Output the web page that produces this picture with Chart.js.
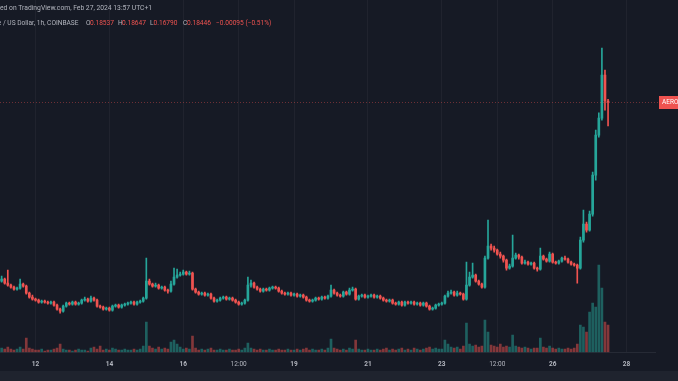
<!DOCTYPE html>
<html>
<head>
<meta charset="utf-8">
<script src="https://cdn.jsdelivr.net/npm/chart.js@4.4.1/dist/chart.umd.min.js"></script>
<style>
html, body { margin: 0; padding: 0; background: #161a25; }
canvas { display: block; }
</style>
</head>
<body>
<canvas id="myChart" width="678" height="381"></canvas>
<script>
// AERO / USD, 2-hour candles, Feb 11 - Feb 27 2024 (hours counted from Feb 11 00:00)
var open = [
  .0593,.0607,.0579,.0565,.0551,.0537,.0544,.0572,.0558,.0509,
  .0481,.0467,.0460,.0446,.0453,.0446,.0439,.0446,.0425,.0397,
  .0383,.0418,.0439,.0432,.0446,.0432,.0439,.0460,.0467,.0453,
  .0474,.0460,.0418,.0411,.0397,.0404,.0390,.0418,.0425,.0411,
  .0425,.0432,.0439,.0446,.0432,.0446,.0453,.0474,.0593,.0572,
  .0558,.0565,.0544,.0551,.0530,.0523,.0572,.0621,.0635,.0642,
  .0656,.0642,.0649,.0537,.0516,.0502,.0509,.0495,.0502,.0474,
  .0453,.0460,.0474,.0481,.0467,.0474,.0460,.0446,.0432,.0439,
  .0460,.0565,.0579,.0551,.0537,.0523,.0537,.0530,.0544,.0551,
  .0544,.0523,.0509,.0502,.0509,.0495,.0502,.0488,.0495,.0481,
  .0460,.0453,.0460,.0474,.0467,.0481,.0474,.0488,.0530,.0509,
  .0495,.0488,.0516,.0502,.0530,.0537,.0467,.0488,.0495,.0481,
  .0488,.0495,.0481,.0488,.0474,.0460,.0453,.0460,.0439,.0432,
  .0446,.0425,.0446,.0439,.0446,.0432,.0439,.0425,.0439,.0418,
  .0397,.0404,.0425,.0432,.0439,.0488,.0509,.0516,.0495,.0509,
  .0502,.0467,.0565,.0621,.0635,.0593,.0572,.0551,.0754,.0838,
  .0824,.0810,.0782,.0768,.0740,.0684,.0698,.0754,.0775,.0761,
  .0719,.0726,.0712,.0719,.0684,.0677,.0768,.0747,.0733,.0782,
  .0726,.0719,.0733,.0754,.0747,.0726,.0712,.0705,.0684,.0880,
  .0992,.0950,.1062,.1335,.1615,.1734,.2035,.18537
];
var high = [
  .0628,.0614,.0670,.0572,.0558,.0551,.0607,.0579,.0565,.0516,
  .0495,.0474,.0467,.0460,.0460,.0453,.0453,.0453,.0432,.0404,
  .0425,.0446,.0446,.0453,.0453,.0446,.0467,.0481,.0474,.0488,
  .0481,.0467,.0425,.0418,.0411,.0411,.0425,.0432,.0432,.0432,
  .0439,.0446,.0453,.0453,.0453,.0460,.0481,.0754,.0607,.0579,
  .0579,.0572,.0558,.0558,.0537,.0593,.0684,.0677,.0656,.0670,
  .0663,.0663,.0656,.0544,.0523,.0516,.0516,.0509,.0509,.0481,
  .0467,.0481,.0488,.0488,.0481,.0481,.0467,.0453,.0446,.0467,
  .0621,.0600,.0586,.0558,.0544,.0544,.0544,.0551,.0558,.0558,
  .0551,.0530,.0516,.0516,.0516,.0509,.0509,.0502,.0502,.0488,
  .0467,.0467,.0481,.0481,.0488,.0488,.0495,.0565,.0537,.0516,
  .0502,.0523,.0523,.0544,.0551,.0544,.0495,.0502,.0502,.0495,
  .0502,.0502,.0495,.0495,.0481,.0467,.0467,.0467,.0446,.0453,
  .0453,.0453,.0453,.0453,.0453,.0446,.0446,.0446,.0446,.0425,
  .0411,.0432,.0439,.0446,.0495,.0523,.0530,.0523,.0523,.0516,
  .0509,.0726,.0656,.0719,.0642,.0600,.0579,.0768,.1020,.0852,
  .0838,.0817,.0796,.0775,.0747,.0712,.0915,.0789,.0782,.0768,
  .0740,.0733,.0726,.0726,.0691,.0824,.0775,.0754,.0796,.0789,
  .0733,.0740,.0761,.0768,.0754,.0733,.0719,.0712,.0901,.1090,
  .1006,.1083,.1356,.1650,.1770,.2224,.2070,.18647
];
var low = [
  .0586,.0572,.0558,.0544,.0530,.0530,.0537,.0551,.0502,.0474,
  .0460,.0453,.0439,.0439,.0439,.0432,.0432,.0418,.0390,.0369,
  .0376,.0411,.0425,.0425,.0425,.0425,.0432,.0453,.0446,.0446,
  .0453,.0411,.0404,.0390,.0390,.0383,.0383,.0411,.0404,.0404,
  .0418,.0425,.0432,.0425,.0425,.0439,.0446,.0467,.0565,.0551,
  .0551,.0537,.0537,.0523,.0509,.0516,.0565,.0614,.0628,.0635,
  .0635,.0635,.0530,.0509,.0495,.0495,.0488,.0488,.0467,.0446,
  .0446,.0453,.0467,.0460,.0460,.0453,.0439,.0425,.0425,.0432,
  .0453,.0551,.0544,.0530,.0516,.0516,.0523,.0523,.0537,.0537,
  .0516,.0502,.0495,.0495,.0488,.0488,.0481,.0481,.0474,.0453,
  .0446,.0446,.0453,.0460,.0460,.0467,.0467,.0481,.0502,.0488,
  .0481,.0481,.0495,.0495,.0523,.0460,.0460,.0481,.0474,.0474,
  .0481,.0474,.0474,.0467,.0453,.0446,.0446,.0432,.0425,.0425,
  .0418,.0418,.0432,.0432,.0425,.0425,.0418,.0418,.0411,.0390,
  .0390,.0397,.0418,.0425,.0432,.0481,.0502,.0488,.0488,.0495,
  .0460,.0460,.0558,.0614,.0586,.0565,.0544,.0544,.0747,.0810,
  .0796,.0775,.0754,.0726,.0670,.0677,.0691,.0747,.0747,.0712,
  .0712,.0705,.0705,.0677,.0663,.0670,.0740,.0726,.0726,.0719,
  .0712,.0712,.0726,.0740,.0719,.0705,.0698,.0579,.0677,.0866,
  .0936,.0943,.1048,.1300,.1601,.1720,.1790,.16790
];
var close = [
  .0607,.0579,.0565,.0551,.0537,.0544,.0572,.0558,.0509,.0481,
  .0467,.0460,.0446,.0453,.0446,.0439,.0446,.0425,.0397,.0383,
  .0418,.0439,.0432,.0446,.0432,.0439,.0460,.0467,.0453,.0474,
  .0460,.0418,.0411,.0397,.0404,.0390,.0418,.0425,.0411,.0425,
  .0432,.0439,.0446,.0432,.0446,.0453,.0474,.0593,.0572,.0558,
  .0565,.0544,.0551,.0530,.0523,.0572,.0621,.0635,.0642,.0656,
  .0642,.0649,.0537,.0516,.0502,.0509,.0495,.0502,.0474,.0453,
  .0460,.0474,.0481,.0467,.0474,.0460,.0446,.0432,.0439,.0460,
  .0565,.0579,.0551,.0537,.0523,.0537,.0530,.0544,.0551,.0544,
  .0523,.0509,.0502,.0509,.0495,.0502,.0488,.0495,.0481,.0460,
  .0453,.0460,.0474,.0467,.0481,.0474,.0488,.0530,.0509,.0495,
  .0488,.0516,.0502,.0530,.0537,.0467,.0488,.0495,.0481,.0488,
  .0495,.0481,.0488,.0474,.0460,.0453,.0460,.0439,.0432,.0446,
  .0425,.0446,.0439,.0446,.0432,.0439,.0425,.0439,.0418,.0397,
  .0404,.0425,.0432,.0439,.0488,.0509,.0516,.0495,.0509,.0502,
  .0467,.0565,.0621,.0635,.0593,.0572,.0551,.0754,.0838,.0824,
  .0810,.0782,.0768,.0740,.0684,.0698,.0754,.0775,.0761,.0719,
  .0726,.0712,.0719,.0684,.0677,.0768,.0747,.0733,.0782,.0726,
  .0719,.0733,.0754,.0747,.0726,.0712,.0705,.0684,.0880,.0992,
  .0950,.1062,.1335,.1615,.1734,.2035,.18541,.18446
];
var volume = [
  4,3,5,3,2,3,5,3,14,4,
  3,2,2,3,1,2,2,3,4,8,
  3,2,2,1,2,3,2,2,1,4,
  5,3,6,2,3,2,4,3,2,2,
  3,2,2,3,2,3,6,30,6,4,
  3,5,3,4,3,10,12,8,5,3,
  4,3,16,4,2,3,2,3,4,2,
  2,3,2,2,3,2,2,3,2,4,
  9,4,3,2,3,2,2,3,2,2,
  3,2,2,3,2,2,3,2,3,4,
  2,3,2,2,3,2,4,13,4,3,
  2,3,2,4,3,12,3,2,2,3,
  2,2,3,2,3,4,2,3,2,3,
  4,2,3,2,4,3,2,3,4,5,
  3,4,3,3,12,8,5,4,5,3,
  6,29,8,6,7,5,6,32,20,7,
  6,5,8,5,6,5,17,6,5,4,
  5,4,3,4,4,14,5,4,6,4,
  3,4,3,3,4,3,4,8,27,25,
  20,40,49,45,87,64,30,27
];

// time axis ticks (hours after Feb 11 00:00)
var tickHours = [24, 72, 120, 156, 192, 240, 288, 324, 360, 408];
var tickLabels = ['12', '14', '16', '12:00', '19', '21', '23', '12:00', '26', '28'];

var upColor = '#26a69a';
var downColor = '#ef5350';
var FONT = 'Roboto, "Liberation Sans", sans-serif';

var candleColors = close.map(function (c, i) { return c >= open[i] ? upColor : downColor; });
var volColors = close.map(function (c, i) { return c >= open[i] ? 'rgba(38,166,154,0.5)' : 'rgba(239,83,80,0.5)'; });

// first candle is centred on hour 2, one candle every 2 hours
var wickData = [], bodyData = [], volData = [];
for (var i = 0; i < close.length; i++) {
    var t = 2 + 2 * i;
    wickData.push({ x: t, y: [low[i], high[i]] });
    bodyData.push({ x: t, y: [open[i], close[i]] });
    volData.push({ x: t, y: volume[i] });
}

var last = close.length - 1;

var background = {
    id: 'background',
    beforeDraw: function (chart) {
        var c = chart.ctx;
        c.save();
        c.fillStyle = '#161a25';
        c.fillRect(0, 0, chart.width, chart.height);
        c.fillStyle = '#1f232e';
        c.fillRect(0, 371, chart.width, chart.height - 371);
        c.restore();
    }
};

var overlay = {
    id: 'overlay',
    afterDraw: function (chart) {
        var c = chart.ctx;
        var area = chart.chartArea;
        var y = chart.scales.y.getPixelForValue(close[last]);
        c.save();
        // last price line
        c.strokeStyle = 'rgba(239,83,80,0.4)';
        c.setLineDash([1, 2]);
        c.lineWidth = 1;
        c.beginPath();
        c.moveTo(area.left, Math.round(y) + 0.5);
        c.lineTo(chart.width, Math.round(y) + 0.5);
        c.stroke();
        c.setLineDash([]);
        c.fillStyle = '#ef5350';
        c.fillRect(659, Math.round(y) - 6, 30, 13);
        c.fillStyle = '#ffffff';
        c.font = '6.5px ' + FONT;
        c.textBaseline = 'middle';
        c.fillText('AEROUSD', 662, Math.round(y) + 0.5);

        // header, first line fitted to the published width
        var seen = 'ed on TradingView.com, Feb 27, 2024 13:57 UTC+1';
        c.font = '10px ' + FONT;
        var size = 10 * 152 / c.measureText(seen).width;
        c.font = size.toFixed(2) + 'px ' + FONT;
        c.fillStyle = '#b2b5be';
        c.fillText('Publish' + seen, -c.measureText('Publish').width, 8);

        c.font = '6.6px ' + FONT;
        c.textAlign = 'right';
        c.fillText('Aerodrome Finance ', 3, 23);
        c.textAlign = 'left';
        c.fillText('/ US Dollar, 1h, COINBASE', 3, 23);
        var red = '#ef5350';
        var parts = [
            ['O', 86, open[last].toFixed(5), 90],
            ['H', 118, high[last].toFixed(5), 122],
            ['L', 150, low[last].toFixed(5), 153.5],
            ['C', 183, close[last].toFixed(5), 187]
        ];
        parts.forEach(function (p) {
            c.fillStyle = '#b2b5be';
            c.fillText(p[0], p[1], 23);
            c.fillStyle = red;
            c.fillText(p[2], p[3], 23);
        });
        var chg = close[last] - close[last - 1];
        var pct = chg / close[last - 1] * 100;
        c.fillStyle = red;
        c.fillText('\u2212' + Math.abs(chg).toFixed(5) + ' (\u2212' + Math.abs(pct).toFixed(2) + '%)', 216, 23);
        c.restore();
    }
};

var ctx = document.getElementById('myChart').getContext('2d');
var chart = new Chart(ctx, {
    type: 'bar',
    data: {
        datasets: [{
            label: 'volume',
            data: volData,
            yAxisID: 'yv',
            backgroundColor: volColors,
            barThickness: 2,
            grouped: false,
            order: 3
        }, {
            label: 'wick',
            data: wickData,
            yAxisID: 'y',
            backgroundColor: candleColors,
            barThickness: 1,
            grouped: false,
            order: 2
        }, {
            label: 'body',
            data: bodyData,
            yAxisID: 'y',
            backgroundColor: candleColors,
            barThickness: 2,
            minBarLength: 1,
            grouped: false,
            order: 1
        }]
    },
    options: {
        responsive: false,
        animation: false,
        devicePixelRatio: 1,
        layout: { padding: { left: 0, right: 23, top: 0, bottom: 5 } },
        plugins: {
            legend: { display: false },
            tooltip: { enabled: false }
        },
        scales: {
            x: {
                type: 'linear',
                min: 0.93,
                max: 426.5,
                offset: false,
                grid: { color: 'rgba(255,255,255,0.045)', drawTicks: false, offset: false },
                border: { color: '#262a35' },
                afterBuildTicks: function (scale) {
                    scale.ticks = tickHours.map(function (v) { return { value: v }; });
                },
                ticks: {
                    autoSkip: false,
                    maxRotation: 0,
                    padding: 8,
                    color: '#b2b5be',
                    font: function (context) {
                        var lab = tickLabels[context.index] || '';
                        return { family: FONT, size: 6.5, weight: lab.indexOf(':') >= 0 ? 'normal' : 'bold' };
                    },
                    callback: function (value) {
                        var k = tickHours.indexOf(value);
                        return k >= 0 ? tickLabels[k] : '';
                    }
                }
            },
            y: { display: false, min: 0.0096, max: 0.256 },
            yv: { display: false, min: 0, max: 352 }
        }
    },
    plugins: [background, overlay]
});
</script>
</body>
</html>
